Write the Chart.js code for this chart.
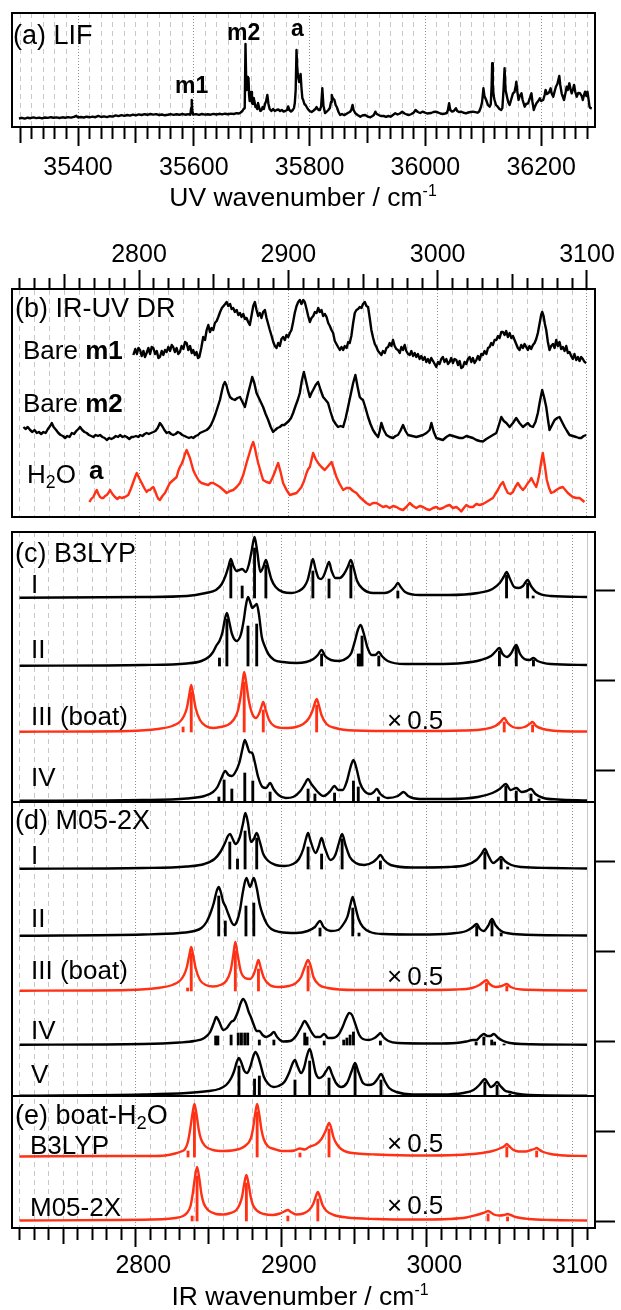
<!DOCTYPE html>
<html lang="en">
<head>
<meta charset="UTF-8">
<title>LIF and IR-UV double resonance spectra</title>
<script src="https://cdn.jsdelivr.net/npm/chart.js"></script>
<style>
  html, body { margin: 0; padding: 0; background: #fff; }
  body { position: relative; width: 621px; height: 1310px; overflow: hidden;
         font-family: "Liberation Sans", Arial, Helvetica, sans-serif; color: #000; }
  canvas { position: absolute; left: 0; }
  #lifChart { top: 0; }
  #drChart { top: 230px; }
  #calcChart { top: 520px; }
  .lbl { position: absolute; line-height: 1; white-space: nowrap; font-size: 26px; }
  .panel { font-size: 27px; }
  .peak { font-size: 23px; font-weight: bold; }
  .axis-title { font-size: 26.5px; transform: translateX(-50%); }
  .sub { font-size: 0.68em; position: relative; top: 0.28em; }
  .sup { font-size: 0.6em; position: relative; top: -0.62em; }
  .gap { margin-left: 5px; }
</style>
</head>
<body>
<canvas id="lifChart" width="621" height="187"></canvas>
<canvas id="drChart" width="621" height="290"></canvas>
<canvas id="calcChart" width="621" height="790"></canvas>

<!-- panel (a) -->
<div class="lbl panel" style="left:13px;top:22px">(a) LIF</div>
<div class="lbl peak" style="left:175px;top:74px">m1</div>
<div class="lbl peak" style="left:227px;top:21px">m2</div>
<div class="lbl peak" style="left:291px;top:17px">a</div>
<div class="lbl axis-title" style="left:303px;top:184px">UV wavenumber / cm<span class="sup">-1</span></div>

<!-- panel (b) -->
<div class="lbl panel" style="left:15px;top:295px">(b) IR-UV DR</div>
<div class="lbl" style="left:23px;top:337px">Bare <b>m1</b></div>
<div class="lbl" style="left:23px;top:390px">Bare <b>m2</b></div>
<div class="lbl" style="left:27px;top:461px">H<span class="sub">2</span>O</div>
<div class="lbl" style="left:89px;top:457px"><b>a</b></div>

<!-- panel (c) -->
<div class="lbl panel" style="left:15px;top:540px">(c) B3LYP</div>
<div class="lbl" style="left:31px;top:571px">I</div>
<div class="lbl" style="left:31px;top:636px">II</div>
<div class="lbl" style="left:31px;top:703px">III (boat)</div>
<div class="lbl" style="left:387px;top:707px">×<span class="gap">0.5</span></div>
<div class="lbl" style="left:31px;top:764px">IV</div>

<!-- panel (d) -->
<div class="lbl panel" style="left:15px;top:807px">(d) M05-2X</div>
<div class="lbl" style="left:31px;top:842px">I</div>
<div class="lbl" style="left:31px;top:905px">II</div>
<div class="lbl" style="left:31px;top:957px">III (boat)</div>
<div class="lbl" style="left:387px;top:963px">×<span class="gap">0.5</span></div>
<div class="lbl" style="left:31px;top:1017px">IV</div>
<div class="lbl" style="left:31px;top:1061px">V</div>

<!-- panel (e) -->
<div class="lbl panel" style="left:15px;top:1102px">(e) boat-H<span class="sub">2</span>O</div>
<div class="lbl" style="left:30px;top:1132px">B3LYP</div>
<div class="lbl" style="left:387px;top:1130px">×<span class="gap">0.5</span></div>
<div class="lbl" style="left:30px;top:1194px">M05-2X</div>
<div class="lbl" style="left:387px;top:1192px">×<span class="gap">0.5</span></div>
<div class="lbl axis-title" style="left:300px;top:1283px">IR wavenumber / cm<span class="sup">-1</span></div>

<script>
// ---------------- data ----------------

// tick labels on the wavenumber axes
const uvTickLabels = [35400, 35600, 35800, 36000, 36200];
const irTickLabels = [2800, 2900, 3000, 3100];

// (a) LIF excitation spectrum: [UV wavenumber, intensity]
const lifTrace = [[35298,1.5],[35303,2.2],[35308,1.4],[35313,2.3],[35318,1.8],[35323,2.6],[35328,1.9],[35333,2.4],[35338,1.7],[35343,2.5],[35348,2.1],[35353,2.8],[35358,2.2],[35363,2.6],[35368,2.0],[35373,2.7],[35378,2.3],[35383,2.9],[35388,2.4],[35393,3.1],[35397,4.2],[35400,2.6],[35405,3.0],[35410,2.5],[35415,3.3],[35420,2.7],[35425,3.4],[35430,2.8],[35435,4.1],[35440,3.0],[35445,3.6],[35450,2.9],[35455,3.8],[35460,3.4],[35465,4.6],[35470,3.9],[35475,4.8],[35480,4.1],[35485,5.0],[35490,4.4],[35495,5.4],[35500,4.7],[35505,5.6],[35510,5.0],[35515,5.8],[35520,5.2],[35525,6.0],[35530,5.4],[35535,5.9],[35540,5.0],[35545,5.5],[35550,4.7],[35555,5.2],[35560,5.8],[35565,5.1],[35570,5.7],[35575,5.2],[35580,6.0],[35585,5.3],[35590,5.8],[35594,5.2],[35595.5,12],[35596.5,20],[35597.5,9],[35599,5.4],[35604,5.9],[35609,5.2],[35614,6.0],[35619,5.4],[35624,5.8],[35629,5.3],[35634,6.1],[35639,5.5],[35644,6.2],[35649,5.6],[35654,6.3],[35659,5.8],[35664,6.4],[35669,6.0],[35674,6.8],[35678,6.5],[35681,7.5],[35684,9],[35686,11],[35688,12],[35689.3,76],[35690.5,40],[35691.5,30],[35692.5,43],[35693.5,33],[35694.5,42],[35695.5,25],[35696.5,19],[35697.5,24],[35699,28],[35700.5,17],[35702,16],[35703.5,22],[35705,18],[35706.5,13],[35708,14],[35709.5,11],[35711,17],[35713,12],[35715,9],[35717,10],[35719,13],[35721,11],[35723,16],[35725,19],[35727,25],[35729,16],[35731,11],[35734,9],[35737,11],[35740,9],[35743,10],[35746,10.5],[35749,9],[35752,10],[35755,8.5],[35758,9],[35761,10],[35763,13.5],[35765,10],[35768,8.5],[35771,10],[35773,12],[35774.5,17],[35776,30],[35777.4,70],[35778.8,50],[35780.3,43],[35782,38],[35783.5,44],[35784.5,46],[35786,32],[35787.5,22],[35789,20],[35791,16],[35793,15],[35795,13],[35797,11],[35800,9],[35803.5,8],[35807,9.5],[35810,11],[35812,13],[35814,11],[35816,10],[35818,10],[35820,14],[35822,31.7],[35824,14],[35826.7,7],[35829,8],[35832.5,10],[35835,12],[35837,18],[35838.3,25],[35840,22],[35842.9,20],[35845,15],[35847,13],[35850,8],[35852.8,5],[35856,6],[35859,5],[35862,5.5],[35866,7],[35870,8.3],[35872,10],[35874.2,15],[35876,10],[35879,6.7],[35883,5],[35887.6,3.3],[35891,4.5],[35896,5],[35900,3.5],[35905,2.7],[35908,3.8],[35911,5],[35913.6,8.3],[35916,6],[35919.4,5],[35923,4],[35928,4],[35932,3.2],[35936,4],[35940,3.3],[35944,5],[35948,6.7],[35952,5.5],[35956,6.5],[35960,8.3],[35964,6.5],[35968,5.5],[35972,5],[35976,6],[35980,7.5],[35983,10],[35987,8],[35991,7],[35995,8.3],[35999,7.5],[36003,6.5],[36006,6.7],[36010,7],[36014,8],[36018,8.3],[36022,7.5],[36026,6.5],[36030,6],[36034,6.5],[36037,7],[36039,10],[36041,16.7],[36043,10],[36046,8.5],[36049,9],[36052.8,11.7],[36055,9],[36058,8],[36061.5,8.3],[36065,7.5],[36070,6.7],[36074,7.5],[36078,8],[36082,8.3],[36086,7.8],[36090,7.3],[36093,8.5],[36096,13],[36098,18],[36100.3,31.7],[36102,24],[36105,20],[36108,15],[36111,13.3],[36113,16],[36114.5,35],[36115.4,56.7],[36116.5,35],[36118,24],[36119.5,20],[36122,15],[36125,13.3],[36128,11],[36131,10],[36133,12],[36135,30],[36136.8,51.7],[36138.5,30],[36141,23.3],[36143,18],[36145.5,15],[36148,20],[36151.3,26.7],[36154,28],[36156,34],[36157.1,38.3],[36158.5,30],[36161,20],[36163,24],[36166,26.7],[36168,20],[36171.6,13.3],[36174,16],[36177.4,16.7],[36180,21],[36183.2,26.7],[36185,18],[36187.3,10],[36189,13],[36191.9,16.7],[36195,19],[36197.7,21.7],[36200,19],[36203.5,20],[36206,25],[36207.6,30],[36210,26],[36212.2,26.7],[36214,28],[36216.3,31.7],[36218.5,26],[36220.9,23.3],[36223,28],[36225.5,33.3],[36228,36],[36231.3,44],[36233,35],[36235.4,26.7],[36237,24],[36239.5,20],[36242,27],[36244.1,33.3],[36246,30],[36248.7,36.7],[36251,30],[36252.8,26.7],[36255,31],[36256.8,35],[36259,28],[36261.4,23.3],[36264,27],[36267.2,26.7],[36270,24],[36271.9,20],[36274,25],[36275.9,28.3],[36278,24],[36280,28.3],[36282,20],[36283.5,13.3],[36285,12],[36287.5,11.7]];

// (b) IR-UV double resonance spectra: [IR wavenumber, depletion signal]
const drBareM1 = [[2796.2,13],[2797.5,19],[2798.6,14],[2799.6,20],[2800.7,18],[2801.8,12],[2803,17],[2804,11],[2805.1,15],[2806.3,20],[2807.4,14],[2808.5,21],[2809.6,20],[2810.8,14],[2811.9,17],[2813,10],[2814,11],[2815.2,17],[2816.3,13],[2817.4,18],[2818.5,16],[2819.6,21],[2820.8,17],[2821.9,23],[2822.9,21],[2824,16],[2825.2,20],[2826.3,14],[2827.4,16],[2828.5,22],[2829.7,19],[2830.8,26],[2831.9,25],[2833,18],[2834.2,22],[2835.3,15],[2836.3,18],[2837.4,13],[2838.5,16],[2839.5,10],[2840.4,11],[2841.7,20],[2843,31],[2844.2,28],[2845.3,38],[2846.4,43],[2847.5,36],[2848.6,40],[2849.7,38],[2850.8,45],[2852,47],[2853.1,51],[2854.3,56],[2855.5,60],[2856.6,62],[2857.7,64],[2858.7,66],[2859.8,62],[2861,64],[2862,59],[2863.1,60],[2864.2,56],[2865.4,58],[2866.5,53],[2867.6,55],[2868.7,51],[2869.8,54],[2871,49],[2872,50],[2873.1,46],[2874.2,43],[2875.3,52],[2876.5,62],[2877.6,66],[2878.7,58],[2879.8,52],[2880.9,55],[2882,50],[2883.1,56],[2884.3,58],[2885.4,50],[2886.5,44],[2887.6,38],[2888.8,32],[2889.9,26],[2891,22],[2892.1,20],[2893.2,25],[2894.3,22],[2895.4,29],[2896.5,31],[2897.6,28],[2898.8,33],[2899.9,31],[2901,35],[2902.1,38],[2903.2,46],[2904.3,55],[2905.5,62],[2906.6,66],[2907.7,68],[2908.8,64],[2910,68],[2911,66],[2912.2,59],[2913.3,52],[2914.4,46],[2915.5,50],[2916.7,52],[2917.8,56],[2918.9,55],[2920,60],[2921.1,56],[2922.2,58],[2923.3,52],[2924.5,54],[2925.6,51],[2926.7,45],[2927.8,42],[2928.9,38],[2930,35],[2931.1,27],[2932.2,24],[2933.3,21],[2934.5,18],[2935.6,21],[2936.7,18],[2937.8,22],[2939,20],[2940.1,26],[2941.1,25],[2942.2,32],[2943.4,45],[2944.5,55],[2945.6,58],[2946.7,59],[2947.8,61],[2949,60],[2950,64],[2951.2,66],[2952.3,62],[2953.4,61],[2954.5,50],[2955.6,38],[2956.8,30],[2957.9,24],[2959,21],[2960.1,17],[2961.2,15],[2962.3,13],[2963.4,17],[2964.6,15],[2965.7,20],[2966.8,21],[2967.9,25],[2969,22],[2970.1,28],[2971.2,22],[2972.3,19],[2973.4,18],[2974.6,15],[2975.7,21],[2976.8,18],[2977.9,23],[2979,17],[2980.2,14],[2981.3,13],[2982.4,17],[2983.5,12],[2984.6,15],[2985.7,11],[2986.8,14],[2987.9,9],[2989,12],[2990.2,8],[2991.3,11],[2992.4,6],[2993.5,9],[2994.6,5],[2995.7,10],[2996.9,7],[2998,4],[2999.1,1],[3000.2,6],[3001.3,4],[3002.4,9],[3003.5,11],[3004.6,6],[3005.8,9],[3006.9,4],[3008,6],[3009.1,10],[3010.2,5],[3011.3,9],[3012.5,8],[3013.6,3],[3014.7,7],[3015.8,0],[3016.9,1],[3018,6],[3019.1,4],[3020.3,9],[3021.4,11],[3022.5,6],[3023.6,10],[3024.7,5],[3025.9,8],[3027,12],[3028.1,8],[3029.2,14],[3030.3,13],[3031.4,17],[3032.6,14],[3033.7,20],[3034.8,21],[3035.9,25],[3037,23],[3038.1,28],[3039.3,28],[3040.4,32],[3041.5,30],[3042.6,36],[3043.7,36],[3044.8,33],[3045.9,37],[3047,31],[3048.2,35],[3049.3,30],[3050.4,32],[3051.5,28],[3052.6,24],[3053.7,20],[3054.8,18],[3056,23],[3057.1,20],[3058.2,24],[3059.3,21],[3060.4,18],[3061.5,22],[3062.6,19],[3063.8,23],[3064.9,25],[3066,29],[3067.1,35],[3068.2,44],[3069.3,53],[3070,56],[3070.9,52],[3071.8,44],[3072.7,38],[3073.8,26],[3074.9,18],[3076,22],[3077.2,24],[3078.3,20],[3079.4,28],[3080.5,22],[3081.6,26],[3082.7,19],[3083.8,21],[3085,17],[3086.1,22],[3087.2,15],[3088.3,16],[3089.4,12],[3090.5,9],[3091.6,14],[3092.8,8],[3093.9,11],[3095,7],[3096.1,11],[3097.2,9],[3098.4,6],[3099.5,5]];

const drBareM2 = [[2722.6,16],[2724,14],[2725.5,16],[2727.1,13],[2728.6,11],[2730,13],[2731.6,10],[2733,11],[2734.5,9],[2736,11],[2737.5,10],[2739,14],[2740.5,17],[2741.6,20],[2742.8,16],[2744.5,13],[2746,10],[2747.5,8],[2749,7],[2750.5,5],[2752,7],[2753.5,6],[2755,10],[2756.5,9],[2758,12],[2759.4,14],[2760.5,16],[2762,13],[2763.5,11],[2765,10],[2766.5,8],[2768,7],[2769.4,6],[2771,8],[2772.5,7],[2773.9,8],[2775.5,6],[2777,5],[2778.4,3],[2780,5],[2781.5,4],[2782.8,5],[2784.5,7],[2786,6],[2787.3,8],[2789,6],[2790.5,7],[2791.8,6],[2793.5,4],[2795,6],[2796.2,6],[2798,7],[2799.5,6],[2800.7,8],[2802.3,7],[2803.8,9],[2805.1,10],[2806.6,9],[2808,10],[2809.6,11],[2811,12],[2812.5,15],[2814,20],[2815.5,17],[2817,13],[2818.5,10],[2820,11],[2821.5,9],[2822.9,8],[2824.5,9],[2826,11],[2827.4,10],[2829,8],[2830.5,7],[2831.9,6],[2833.5,5],[2835,6],[2836.3,5],[2838,7],[2839.5,8],[2840.8,10],[2842.3,11],[2843.8,12],[2845.3,13],[2846.8,15],[2848.2,18],[2849.7,23],[2851.2,29],[2852.7,36],[2854.2,43],[2855.5,52],[2856.5,58],[2857.5,61],[2858.5,58],[2859.7,51],[2860.9,46],[2862.5,44],[2864.2,43],[2865.9,45],[2867.6,46],[2869.3,41],[2870.9,36],[2872,43],[2873.1,50],[2874.5,58],[2875.8,66],[2877.2,60],[2878.7,50],[2880.9,43],[2883.1,36],[2884.8,29],[2886.5,23],[2888.2,16],[2889.8,11],[2891.2,13],[2892.7,15],[2894.3,16],[2895.8,18],[2897.3,18],[2898.8,20],[2900.3,22],[2901.8,25],[2903.2,30],[2904.8,37],[2906.3,43],[2907.7,50],[2909,62],[2910.4,71],[2911.8,62],[2913.2,53],[2914.4,46],[2915.5,50],[2916.6,53],[2918.3,58],[2919.9,61],[2921.6,53],[2923.3,46],[2925,43],[2926.6,40],[2928.3,31],[2930,23],[2931.7,19],[2933.3,16],[2935,17],[2936.7,16],[2938.4,25],[2940,36],[2941.7,48],[2943.4,60],[2944.9,68],[2946.4,56],[2947.8,46],[2949,44],[2950,43],[2951.7,35],[2953.4,26],[2955,19],[2956.7,13],[2958.4,9],[2960.1,6],[2961.2,12],[2962.3,20],[2963.9,13],[2965.7,8],[2967.9,6],[2970.1,5],[2971.8,7],[2973.4,8],[2975,12],[2976.8,18],[2978.5,12],[2980.1,8],[2983,7],[2985.7,6],[2988,7],[2990.2,8],[2992.5,10],[2994.6,13],[2995.8,20],[2997.4,11],[2999.1,5],[3001.3,4],[3003.5,3],[3005.8,6],[3008,8],[3010.3,7],[3012.5,6],[3014.7,5],[3016.9,5],[3019.2,7],[3021.4,6],[3023.6,5],[3025.9,3],[3028.1,2],[3030.3,1.5],[3032.6,4],[3034.8,6],[3037,8],[3039.3,10],[3041,18],[3042.6,26],[3044.3,22],[3046,20],[3048.2,16],[3050.4,20],[3052.6,25],[3054.8,20],[3057.1,16],[3058.7,18],[3060.4,20],[3062.1,17],[3063.8,16],[3065.5,21],[3067.1,30],[3068.5,42],[3070,53],[3071.4,45],[3072.7,36],[3073.8,24],[3074.9,13],[3076.6,18],[3078.3,23],[3080,25],[3081.6,26],[3083.3,21],[3085,16],[3086.6,12],[3088.3,8],[3090.5,7],[3092.8,6],[3094.5,5],[3096.1,5],[3097.8,7],[3099.5,8]];

const drH2Oa = [[2766.8,10],[2768,13],[2769.4,15],[2770.6,19],[2771.7,22],[2772.8,18],[2773.9,15],[2775,14],[2776.1,14],[2777.3,16],[2778.4,17],[2779.5,19],[2780.6,22],[2782.2,18],[2783.9,15],[2785.5,13],[2787,15],[2788.4,14],[2790.6,15],[2792.8,17],[2794.5,23],[2796.2,30],[2797.4,35],[2798.5,39],[2800.1,34],[2801.8,29],[2803.5,24],[2805.1,20],[2806.3,22],[2807.4,22],[2808.5,24],[2809.6,25],[2810.8,21],[2812,16],[2813,13],[2814,12],[2815.7,16],[2817.4,19],[2819,24],[2820.7,29],[2823,32],[2825.2,35],[2826.3,41],[2827.4,45],[2828.5,48],[2829.6,52],[2830.8,58],[2831.9,62],[2833,58],[2834.1,54],[2835.2,48],[2836.3,42],[2837.5,38],[2838.6,35],[2840.2,31],[2841.9,29],[2844,28],[2846.4,27],[2848,29],[2849.7,29],[2852,27],[2854.2,25],[2856.5,22],[2858.7,19],[2861,21],[2863.1,22],[2865.4,25],[2867.6,29],[2869.8,37],[2872,49],[2874.2,60],[2875.4,66],[2876.5,70],[2877.6,64],[2878.7,56],[2879.8,49],[2881.5,40],[2883.1,32],[2885.4,30],[2887.6,29],[2889.3,34],[2891,40],[2892.1,45],[2893.2,49],[2894.8,40],[2896.5,29],[2898.8,22],[2901,17],[2903.2,18],[2905.5,19],[2907.2,22],[2908.8,25],[2910.5,31],[2912.2,39],[2913.3,43],[2914.4,45],[2915.5,52],[2916.6,59],[2918.3,53],[2919.9,49],[2922.2,45],[2924.4,42],[2926.7,46],[2928.9,50],[2930.5,43],[2932.2,35],[2934.4,28],[2936.7,22],[2938.9,24],[2941.1,24],[2943.3,21],[2945.6,19],[2947.8,15],[2950,12],[2952.3,9],[2954.5,7],[2956.7,9],[2959,9],[2961.2,7],[2963.4,5],[2965.6,6],[2967.9,4],[2970.1,6],[2972.4,5],[2974.6,3],[2976.8,2],[2979,5],[2981.3,9],[2983.5,6],[2985.7,4],[2988,6],[2990.2,5],[2992.4,3],[2994.6,2],[2996.9,4],[2999.1,5],[3001.3,3],[3003.5,4],[3005.8,6],[3008,7],[3010.2,4],[3012.5,5],[3014.2,3],[3015.8,0.5],[3017.5,4],[3019.2,7],[3021.4,5],[3023.6,5],[3025.9,8],[3028.1,7],[3030.3,8],[3032.6,10],[3034.8,12],[3037,14],[3038.6,18],[3040.3,22],[3042,27],[3043.7,30],[3045.3,24],[3047,19],[3048.7,18],[3050.4,20],[3052,25],[3053.7,29],[3055.4,25],[3057.1,22],[3058.8,25],[3060.4,29],[3061.6,31],[3062.7,34],[3064.4,29],[3066,25],[3067.1,31],[3068.2,39],[3069.3,50],[3070.4,59],[3071.8,46],[3073.1,32],[3074.6,24],[3076,19],[3077.7,20],[3079.4,22],[3081.6,24],[3083.8,25],[3085.5,22],[3087.2,19],[3088.8,17],[3090.5,15],[3092.8,14],[3095,14],[3096.7,12],[3098.3,10]];

// (c)-(e) calculated spectra: band envelope [wavenumber, intensity] and stick lines [wavenumber, intensity]
const b3lypI = [[2715,0.3],[2800,1],[2830,2],[2843,5],[2850,8],[2854,14],[2856.5,22],[2858.5,31],[2860.2,39],[2862,32],[2864.2,27],[2866,28],[2868,29],[2870.5,26],[2872.5,33],[2874.5,47],[2876.5,61],[2878.3,47],[2880.5,26],[2882.5,31],[2884.3,38],[2886,30],[2888,19],[2891,11],[2896,6],[2902,5],[2907,7],[2910.5,11],[2913,18],[2914.8,29],[2916.6,39],[2918.4,29],[2920.5,20],[2922.3,19],[2924,22],[2926,30],[2927.7,36],[2929.5,27],[2932,20],[2935,20],[2938,24],[2940.8,32],[2942.7,38],[2944.6,30],[2947,17],[2951,9],[2958,5],[2966,5],[2970,7],[2973,11],[2975,15],[2977,11],[2980,6],[2990,3],[3010,3],[3030,5],[3040,9],[3045,15],[3047.7,21],[3049.7,26],[3051.8,20],[3055,11],[3058,10],[3061,12],[3064.2,18],[3066.5,12],[3070,6],[3080,2],[3105,1]];
const b3lypISticks = [[2860.2,35],[2868,12],[2876.5,50],[2884.3,33],[2916.6,27],[2927.7,19],[2942.7,33],[2975,7],[3049.7,23],[3064.2,15],[3068,2]];

const b3lypII = [[2715,0.3],[2800,1],[2830,2.5],[2840,5],[2845,9],[2848,14],[2850.5,21],[2852.4,25],[2854.5,34],[2856,46],[2857.5,53],[2859,45],[2861,32],[2864.2,25],[2867,31],[2869,45],[2870.5,60],[2872,69],[2873.5,64],[2875,58],[2876.5,60],[2878,62],[2879.5,52],[2881.5,29],[2883.5,20],[2886,12],[2890,6],[2896,4],[2905,3],[2912,4],[2917,7],[2920,11],[2922.6,16],[2925,10],[2929,6],[2935,5],[2940,8],[2943,13],[2945.5,25],[2947.5,36],[2949.4,41],[2951.5,33],[2954,19],[2957,11],[2959.5,11],[2961.9,14],[2964,10],[2968,5],[2980,2],[3000,2],[3020,3],[3032,6],[3039,10],[3042.5,15],[3044.8,18],[3047,12],[3050,9],[3053,13],[3056.4,21],[3059,12],[3062,7],[3065.5,6],[3068.2,8],[3071,5],[3080,2],[3105,1]];
const b3lypIISticks = [[2852.4,8],[2857.5,47],[2872,40],[2878,42],[2922.6,12],[2947.8,12],[2949,12],[2950.4,30],[2961.9,10],[3044.8,15],[3056.4,20],[3068.2,6]];

const b3lypIII = [[2715,0.3],[2790,1],[2810,3],[2820,6],[2825,10],[2828,16],[2830,24],[2831.5,36],[2833,47],[2834.5,36],[2836,24],[2839,12],[2843,6],[2848,4],[2853,5],[2858,7],[2862,12],[2865,21],[2867,36],[2868.3,50],[2869.4,60],[2870.7,50],[2872.5,32],[2875,18],[2877.5,14],[2879.5,18],[2881,24],[2882.5,30],[2884,23],[2886.5,12],[2890,6],[2897,4],[2905,5],[2910,8],[2914,14],[2916.5,22],[2918,29],[2919.2,33],[2920.5,28],[2922.5,17],[2926,8],[2932,4],[2945,1.5],[2980,1],[3020,1.5],[3035,3],[3042,6],[3045.5,10],[3048.1,14],[3050.5,9],[3054,5],[3058,4],[3062,5],[3065.5,8],[3067.6,10],[3070,6],[3075,3],[3085,1],[3105,0.5]];
const b3lypIIISticks = [[2827.4,5],[2833,40],[2869.4,50],[2882.5,22],[2919.2,27],[3048.1,10],[3067.6,7]];

const b3lypIV = [[2715,0.3],[2800,1],[2830,2.5],[2842,5],[2848,9],[2851,14],[2853.5,22],[2856.4,30],[2858.6,26],[2861,25],[2863,28],[2866,38],[2868.2,52],[2869.8,61],[2871.5,55],[2873,49],[2874.9,48],[2876.5,40],[2879,24],[2882,14],[2884.5,13],[2887.2,18],[2889.5,12],[2893,6],[2898,3],[2903,4],[2908,10],[2911,17],[2913.3,22],[2915.5,17],[2917.7,13],[2920,9],[2924,5],[2928,9],[2931.5,15],[2934,11],[2937,11],[2940,20],[2942.5,34],[2944.5,41],[2946.5,33],[2949,18],[2952,10],[2956,7],[2958.5,9],[2960.5,12],[2963,7],[2968,3],[2975,5],[2979,9],[2982,5],[2990,2],[3010,2],[3030,4],[3040,8],[3045,12],[3049.2,17],[3052.5,11],[3056.4,13],[3060,9],[3063.5,10],[3066.5,12],[3069.5,7],[3075,3],[3085,1.5],[3105,0.5]];
const b3lypIVSticks = [[2852,4],[2855.6,21],[2860.9,12],[2869.8,28],[2875.3,20],[2887.2,9],[2913.3,12],[2918,7],[2931.5,8],[2944.5,20],[2947.8,14],[2961.6,4],[3049.2,15],[3056.4,10],[3066.5,7],[3072,2]];

const m052xI = [[2715,0.3],[2800,1],[2830,2.5],[2842,5],[2849,10],[2853,17],[2856.5,27],[2858.2,33],[2859.7,35],[2861.5,30],[2863.5,25],[2866.4,32],[2868.5,45],[2870.2,56],[2872,46],[2874,27],[2876,30],[2878,36],[2880,28],[2882.5,15],[2886,8],[2891,4],[2897,3],[2903,5],[2907,10],[2910,20],[2911.8,30],[2913.3,36],[2915,28],[2918.5,16],[2920.5,22],[2922.6,31],[2924.6,22],[2928.7,9],[2932,14],[2934.5,26],[2936.7,35],[2939,24],[2942,12],[2946,6],[2952,4],[2958,7],[2961,11],[2963,14],[2965.5,9],[2970,4],[2985,1.5],[3010,2],[3022,4],[3029,9],[3032.5,15],[3034.8,20],[3037,14],[3040.5,6],[3043.5,9],[3046,12],[3048.5,8],[3053,4],[3060,2],[3080,1],[3105,0.5]];
const m052xISticks = [[2859.5,27],[2864.8,10],[2870,38],[2878,31],[2913.3,22],[2922.6,15],[2936.7,30],[2963,8],[3034.8,17],[3046,10],[3050.5,2]];

const m052xII = [[2715,0.3],[2800,1.5],[2825,3],[2835,5],[2840,8],[2843.5,14],[2846,22],[2848.5,33],[2850.5,45],[2851.9,49],[2853.3,44],[2855,34],[2856.4,30],[2858.5,22],[2861,13],[2862.5,11],[2864.5,15],[2866.5,26],[2868.5,44],[2870.9,58],[2873.4,49],[2876,58],[2878,48],[2880,32],[2882,22],[2885,12],[2888,7],[2894,4],[2905,3],[2913,5],[2918,9],[2921.5,15],[2924,9],[2929,5],[2934,6],[2938.5,14],[2940.5,20],[2942.5,32],[2944,39],[2945.5,31],[2948,17],[2951,9],[2956,4],[2965,2],[2990,1.5],[3012,2.5],[3022,5],[3026.5,9],[3029.2,12],[3031.5,7],[3034,5],[3037,10],[3039.7,17],[3042,11],[3046,5],[3050,3],[3060,1.5],[3105,0.5]];
const m052xIISticks = [[2851.9,40],[2856.4,15],[2870.6,30],[2876,33],[2921.5,8],[2944,28],[2948.3,3],[3029.2,10],[3039.7,15],[3046,3]];

const m052xIII = [[2715,0.3],[2790,1],[2810,3],[2820,6],[2825,10],[2828,16],[2830,24],[2831.7,36],[2833,44],[2834.3,36],[2836,23],[2839,11],[2843,6],[2848,4.5],[2853,6],[2857,10],[2860,20],[2861.8,35],[2863.3,49],[2864.8,37],[2867,20],[2870,13],[2873.5,12],[2876,17],[2877.8,25],[2879.2,31],[2880.6,24],[2883,13],[2887,6],[2893,4],[2900,5],[2905,8],[2908.5,14],[2911,24],[2913.3,31],[2915.3,24],[2917,14],[2921,6],[2927,3],[2945,1],[2990,1],[3015,1.5],[3026,3],[3031,6],[3033.8,9],[3035.9,11],[3038,7],[3042,4],[3046.5,5],[3049.9,7],[3052.5,4],[3060,1.5],[3105,0.5]];
const m052xIIISticks = [[2830.5,3],[2833,38],[2863.3,40],[2879.2,22],[2913.3,25],[3035.9,8],[3049.9,5]];

const m052xIV = [[2715,0.3],[2800,1],[2825,2.5],[2835,4],[2842,7],[2846,13],[2848.5,22],[2850.2,28],[2852,24],[2855,15],[2857.5,17],[2860.4,23],[2862.5,25],[2865,33],[2867,42],[2868.7,46],[2870.5,42],[2872.5,33],[2874,28],[2876,20],[2878,14],[2879.8,14],[2882,10],[2884.5,8],[2887.5,10],[2889.8,13],[2892,8],[2896,3.5],[2901,4],[2905,9],[2908.5,18],[2911,24],[2913,20],[2916,12],[2918.5,8],[2921.5,8],[2924.4,11],[2927,7],[2930,7],[2934,10],[2937,18],[2939.5,27],[2941.6,32],[2943.5,30],[2946,20],[2948.5,10],[2951,6],[2955,5],[2959,7],[2961.5,10],[2963,12],[2965,8],[2968.5,4],[2975,2],[3000,1.5],[3015,2],[3022,3.5],[3026.5,5],[3029,5],[3032,9],[3034.1,11],[3036.5,9],[3038.5,9],[3041,11],[3044,7],[3047.5,4],[3052,2],[3060,1],[3105,0.3]];
const m052xIVSticks = [[2849.8,9],[2851.3,9],[2860.4,10],[2865.3,12],[2867.5,12],[2869.8,12],[2871.8,12],[2879.8,5],[2889.8,5],[2911,12],[2912.6,8],[2924.4,4],[2937.8,5],[2940,7],[2942.2,10],[2944.5,13],[2963,4],[3028.8,3],[3034.1,8],[3039.5,5],[3041.5,3],[3048,1]];

const m052xV = [[2715,0.3],[2800,1.5],[2830,3],[2845,5],[2852,7],[2857,11],[2860.5,18],[2862.5,25],[2864.3,34],[2865.8,38],[2867.3,34],[2869.5,25],[2871.5,23],[2873.5,29],[2875.5,39],[2877.1,44],[2878.8,40],[2880.5,32],[2883,19],[2886,12],[2889.5,9],[2893,10],[2897,14],[2900.5,24],[2902.5,32],[2904.3,36],[2906,30],[2908.5,23],[2910.5,28],[2912.5,40],[2914.4,47],[2916.3,38],[2918.5,23],[2921,18],[2923.5,20],[2925.7,25],[2927.7,29],[2929.7,22],[2932.5,13],[2936,9],[2940,13],[2943.3,25],[2945.6,33],[2947.9,24],[2951,13],[2954.5,11],[2958,12],[2961,17],[2963.5,22],[2966,15],[2969,8],[2974,4],[2985,1.5],[3005,1.5],[3020,3],[3027,6],[3031,11],[3033.2,15],[3034.8,17],[3036.8,13],[3039,9],[3041.2,11],[3043.2,14],[3045.5,10],[3049,5],[3052,4],[3056,2.5],[3065,1],[3105,0.3]];
const m052xVSticks = [[2865.8,30],[2876.5,17],[2879.8,20],[2904.3,16],[2914.4,35],[2927.7,18],[2945.6,30],[2963.4,16],[3034.8,14],[3043.2,11],[3052,2]];

const boatH2Ob3lyp = [[2715,0.5],[2780,1],[2805,1],[2815,1.5],[2822,3.5],[2826,5.5],[2828.5,7.5],[2830.7,15],[2832.2,27],[2833.7,42],[2835.2,53],[2836.7,42],[2838.2,27],[2839.7,18],[2842.5,11],[2848,7],[2855,6],[2861,6.5],[2866,8],[2870,11],[2873.8,18],[2875.3,27],[2876.8,42],[2878.3,53],[2879.8,42],[2881.3,27],[2882.8,18],[2885.5,11],[2890,8],[2895,6],[2900,6],[2904,6.5],[2907.7,8.5],[2911,7.5],[2914,10],[2919,13],[2922.5,18],[2924.7,24],[2926.2,29],[2927.7,34],[2929.2,29],[2930.7,20],[2933,13],[2936,8],[2940,5],[2947,3.5],[2960,2.5],[2990,1.5],[3015,2],[3030,3.5],[3040,6],[3045,8.5],[3048.4,11],[3049.9,13],[3051.4,11],[3054,7.5],[3058,5.5],[3063,5.5],[3066.5,7],[3068.9,8],[3070.4,9],[3072,7.5],[3075,5],[3080,3],[3090,1.5],[3105,1]];
const boatH2Ob3lypSticks = [[2830.8,6],[2835.2,45],[2878.3,45],[2907.7,4],[2927.7,28],[3049.9,10],[3070.4,6]];

const boatH2Om052x = [[2715,0.5],[2780,1],[2805,1.5],[2815,2],[2822,3],[2827.4,5],[2830,8],[2832.5,15],[2834,27],[2835.5,43],[2837,54],[2838.5,43],[2840,27],[2841.5,18],[2844.5,11],[2850,7],[2855,6.5],[2860,8],[2864,11],[2866.4,17],[2867.9,24],[2869.4,37],[2870.9,46],[2872.4,37],[2873.9,24],[2875.4,16],[2878.5,10],[2883,7],[2889,6],[2894,7.5],[2897,9.5],[2899.4,11],[2901.5,9],[2905,6.5],[2910,7.5],[2914,11],[2916.8,17],[2918.5,24],[2920,29],[2921.5,24],[2923.2,16],[2926,10],[2931,6],[2940,3.5],[2960,2],[2990,1.5],[3010,2],[3022,3.5],[3029,6],[3033.5,8],[3035.5,9],[3037,10],[3038.5,9],[3041,6.5],[3044.5,5.5],[3048,6],[3050.4,7],[3052.5,6],[3056,4],[3065,2],[3080,1],[3105,0.5]];
const boatH2Om052xSticks = [[2833.6,5],[2837,45],[2870.9,38],[2899.4,5],[2920,22],[3037,7],[3050.4,4]];

// ---------------- layout / style ----------------

const BLACK = '#000000';
const RED = '#ff3014';

const uvRange = { min: 35286, max: 36293 };
const irRange = { min: 2714.95, max: 3105.36 };

// vertical extent of each frame in plot units (1 unit = 1 px)
const lifY = { min: -7, max: 107 };
const drY = { min: 0, max: 228 };
const calcY = { min: 0, max: 696 };

// baselines of the stacked traces
const drTraces = [
  { data: drBareM1, offset: 149, color: BLACK },
  { data: drBareM2, offset: 74, color: BLACK },
  { data: drH2Oa, offset: 5, color: RED }
];
const calcTraces = [
  { curve: b3lypI, sticks: b3lypISticks, offset: 630, color: BLACK },
  { curve: b3lypII, sticks: b3lypIISticks, offset: 562, color: BLACK },
  { curve: b3lypIII, sticks: b3lypIIISticks, offset: 496, color: RED },
  { curve: b3lypIV, sticks: b3lypIVSticks, offset: 427, color: BLACK },
  { curve: m052xI, sticks: m052xISticks, offset: 359, color: BLACK },
  { curve: m052xII, sticks: m052xIISticks, offset: 292, color: BLACK },
  { curve: m052xIII, sticks: m052xIIISticks, offset: 237, color: RED },
  { curve: m052xIV, sticks: m052xIVSticks, offset: 183, color: BLACK },
  { curve: m052xV, sticks: m052xVSticks, offset: 132, color: BLACK },
  { curve: boatH2Ob3lyp, sticks: boatH2Ob3lypSticks, offset: 71, color: RED },
  { curve: boatH2Om052x, sticks: boatH2Om052xSticks, offset: 7, color: RED }
];
const panelDividers = [132, 426];
const rightAxisTicks = [7, 97, 187, 277, 367, 457, 548, 638];

Chart.defaults.font.family = '"Liberation Sans", Arial, sans-serif';
Chart.defaults.font.size = 25;
Chart.defaults.color = BLACK;

const TICK_LEN = [11, 15, 19]; // minor, mid, major tick marks

// wavenumber axis with minor/mid/major ticks, dashed minor grid and dotted major grid
function wavenumberAxis(range, steps, labels, position, labelPad) {
  const [minor, mid, major] = steps;
  const level = v => (v % major === 0 ? 2 : v % mid === 0 ? 1 : 0);
  return {
    type: 'linear',
    position,
    min: range.min,
    max: range.max,
    afterBuildTicks: axis => {
      const ticks = [];
      for (let v = Math.ceil(range.min / minor) * minor; v <= range.max; v += minor) ticks.push({ value: v });
      axis.ticks = ticks;
    },
    afterFit: axis => { axis.height = position === 'top' ? 59 : 60; },
    ticks: {
      autoSkip: false,
      maxRotation: 0,
      minRotation: 0,
      padding: labelPad,
      callback: v => (labels.includes(v) ? String(v) : '')
    },
    grid: {
      drawOnChartArea: true,
      color: c => (c.tick && level(c.tick.value) === 2 ? '#8e8e8e' : '#c8c8c8'),
      lineWidth: 1,
      tickLength: 19,
      tickWidth: 2,
      tickColor: BLACK,
      tickBorderDash: c => {
        const len = TICK_LEN[c.tick ? level(c.tick.value) : 0];
        return position === 'top' ? [0, 19 - len, len, 100] : [len, 100];
      }
    },
    border: {
      display: true,
      color: BLACK,
      width: 2,
      dash: c => (c.tick ? (level(c.tick.value) === 2 ? [1, 2] : [5, 4]) : [])
    }
  };
}

// plain frame edge (no ticks)
function edgeAxis(position, range) {
  const horizontal = position === 'top' || position === 'bottom';
  return {
    type: 'linear',
    position,
    min: range.min,
    max: range.max,
    ticks: { display: false },
    grid: { display: false, drawTicks: false },
    border: { display: true, color: BLACK, width: 2 },
    afterFit: axis => { if (horizontal) axis.height = 0; else axis.width = 0; }
  };
}

function lineSet(points, offset, color, smooth) {
  return {
    type: 'line',
    xAxisID: 'x',
    yAxisID: 'y',
    data: points.map(([x, y]) => ({ x, y: y + offset })),
    borderColor: color,
    borderWidth: 2.4,
    borderJoinStyle: 'round',
    pointRadius: 0,
    fill: false,
    tension: 0,
    cubicInterpolationMode: smooth ? 'monotone' : 'default'
  };
}

function stickSet(list, offset, color) {
  return {
    type: 'bar',
    xAxisID: 'x',
    yAxisID: 'y',
    data: list.map(([x, h]) => ({ x, y: [offset, offset + h] })),
    backgroundColor: color,
    borderWidth: 0,
    barThickness: 2.2,
    grouped: false
  };
}

const baseOptions = {
  responsive: false,
  maintainAspectRatio: false,
  devicePixelRatio: 1,
  animation: false,
  events: [],
  plugins: { legend: { display: false }, tooltip: { enabled: false } }
};

// (a) LIF
new Chart(document.getElementById('lifChart'), {
  type: 'line',
  data: { datasets: [lineSet(lifTrace, 0, BLACK, false)] },
  options: {
    ...baseOptions,
    layout: { padding: { left: 12, right: 26, top: 13, bottom: 0 } },
    scales: {
      x: wavenumberAxis(uvRange, [20, 100, 200], uvTickLabels, 'bottom', 7),
      xEdge: edgeAxis('top', uvRange),
      y: edgeAxis('left', lifY),
      yEdge: edgeAxis('right', lifY)
    }
  }
});

// (b) IR-UV DR
new Chart(document.getElementById('drChart'), {
  type: 'line',
  data: { datasets: drTraces.map(t => lineSet(t.data, t.offset, t.color, false)) },
  options: {
    ...baseOptions,
    layout: { padding: { left: 12, right: 26, top: 0, bottom: 3 } },
    scales: {
      x: wavenumberAxis(irRange, [10, 50, 100], irTickLabels, 'top', 0),
      xEdge: edgeAxis('bottom', irRange),
      y: edgeAxis('left', drY),
      yEdge: edgeAxis('right', drY)
    }
  }
});

// (c)-(e) calculated spectra
const calcSets = [];
calcTraces.forEach(t => {
  calcSets.push(lineSet(t.curve, t.offset, t.color, true));
  calcSets.push(stickSet(t.sticks, t.offset, t.color));
});

new Chart(document.getElementById('calcChart'), {
  type: 'line',
  data: { datasets: calcSets },
  options: {
    ...baseOptions,
    layout: { padding: { left: 12, right: 6, top: 12, bottom: 22 } },
    scales: {
      x: wavenumberAxis(irRange, [10, 50, 100], irTickLabels, 'bottom', 4),
      xEdge: edgeAxis('top', irRange),
      y: {
        type: 'linear',
        position: 'left',
        min: calcY.min,
        max: calcY.max,
        afterBuildTicks: axis => { axis.ticks = panelDividers.map(v => ({ value: v })); },
        afterFit: axis => { axis.width = 0; },
        ticks: { display: false },
        grid: { drawOnChartArea: true, drawTicks: false, color: BLACK, lineWidth: 2 },
        border: { display: true, color: BLACK, width: 2, dash: [] }
      },
      yRight: {
        type: 'linear',
        position: 'right',
        min: calcY.min,
        max: calcY.max,
        afterBuildTicks: axis => { axis.ticks = rightAxisTicks.map(v => ({ value: v })); },
        afterFit: axis => { axis.width = 20; },
        ticks: { display: false },
        grid: { drawOnChartArea: false, drawTicks: true, tickLength: 20, tickWidth: 2, tickColor: BLACK, color: BLACK },
        border: { display: true, color: BLACK, width: 2 }
      }
    }
  }
});
</script>
</body>
</html>
